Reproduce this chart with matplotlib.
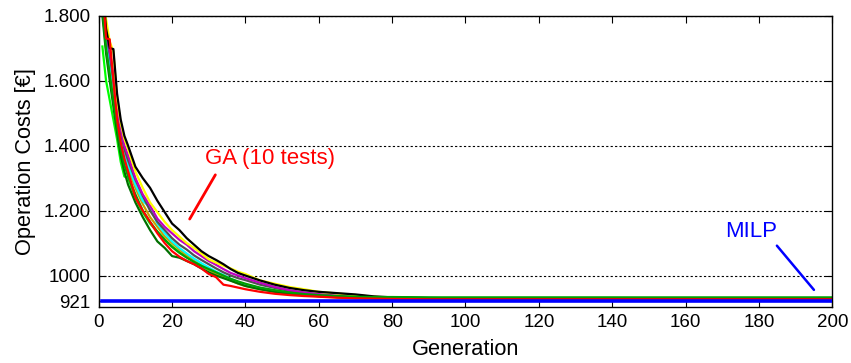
import matplotlib
matplotlib.use('Agg')
import matplotlib.pyplot as plt

plt.rcParams['font.family'] = ['Liberation Sans', 'DejaVu Sans']

gens = [1, 2, 3, 4, 5, 6, 7, 8, 10, 12, 14, 16, 18, 20, 22, 24, 26, 28, 30, 32, 34,
        36, 38, 40, 44, 48, 52, 56, 60, 65, 70, 75, 80, 90, 100, 120, 140, 160, 180, 200]

ga_black = [1900, 1760, 1700, 1697, 1560, 1480, 1430, 1400, 1335, 1300, 1270, 1230, 1195, 1160,
            1140, 1115, 1095, 1075, 1060, 1048, 1035, 1020, 1008, 1000, 985, 972, 962, 955,
            950, 946, 942, 936, 933, 931, 930, 929, 929, 928, 928, 928]
ga_yellow = [1880, 1790, 1720, 1690, 1540, 1470, 1420, 1390, 1320, 1270, 1225, 1195, 1165, 1140,
             1120, 1100, 1085, 1068, 1050, 1040, 1030, 1022, 1012, 1005, 985, 975, 965, 958,
             950, 945, 940, 935, 932, 930, 929, 928, 928, 928, 928, 928]
ga_magenta = [1870, 1760, 1690, 1620, 1520, 1450, 1400, 1370, 1300, 1250, 1215, 1175, 1150, 1130,
              1110, 1095, 1075, 1060, 1045, 1033, 1020, 1008, 1000, 992, 978, 965, 955, 948,
              943, 938, 934, 932, 931, 930, 930, 929, 929, 929, 929, 929]
ga_gray = [1860, 1750, 1680, 1600, 1510, 1440, 1390, 1355, 1295, 1245, 1200, 1165, 1140, 1115,
           1095, 1080, 1062, 1048, 1035, 1022, 1010, 1000, 992, 986, 972, 962, 953, 946,
           941, 937, 934, 932, 931, 930, 929, 929, 929, 929, 929, 929]
ga_cyan = [1850, 1740, 1660, 1580, 1490, 1420, 1375, 1340, 1280, 1230, 1210, 1160, 1130, 1105,
           1085, 1068, 1052, 1038, 1025, 1012, 1002, 990, 980, 972, 962, 954, 948, 942,
           938, 935, 933, 932, 931, 931, 930, 930, 929, 929, 929, 929]
ga_olive = [1840, 1730, 1650, 1570, 1480, 1410, 1365, 1330, 1270, 1220, 1180, 1150, 1120, 1100,
            1080, 1062, 1045, 1032, 1018, 1005, 995, 985, 975, 968, 958, 950, 945, 940,
            936, 933, 931, 930, 929, 929, 929, 929, 929, 929, 929, 929]
ga_lime = [1705, 1600, 1540, 1480, 1420, 1350, 1305, 1300, 1240, 1195, 1160, 1135, 1110, 1090,
           1072, 1058, 1042, 1030, 1018, 1008, 998, 988, 978, 970, 960, 950, 944, 940,
           937, 934, 932, 931, 931, 931, 931, 931, 931, 930, 930, 930]
ga_green = [1820, 1700, 1620, 1540, 1460, 1390, 1340, 1305, 1250, 1200, 1165, 1135, 1110, 1088,
            1070, 1055, 1042, 1030, 1020, 1010, 1000, 990, 982, 975, 963, 955, 948, 943,
            940, 937, 935, 934, 934, 933, 933, 933, 933, 933, 933, 933]
ga_darkgreen = [1800, 1684, 1600, 1520, 1440, 1370, 1320, 1280, 1225, 1180, 1140, 1105, 1085, 1060,
                1055, 1045, 1035, 1022, 1010, 1000, 992, 984, 976, 968, 958, 950, 944, 940,
                937, 934, 932, 931, 930, 930, 930, 930, 930, 930, 930, 930]
ga_red = [1900, 1730, 1727, 1600, 1480, 1410, 1360, 1320, 1240, 1200, 1165, 1130, 1100, 1075,
          1058, 1045, 1035, 1022, 1005, 995, 972, 968, 963, 958, 950, 944, 940, 937,
          935, 932, 930, 929, 928, 927, 927, 927, 927, 927, 927, 927]

milp_gens = [1, 200]
milp_cost = [921, 921]

series = [
    (ga_lime, '#00FF00'),
    (ga_olive, '#C8A000'),
    (ga_cyan, '#00FFFF'),
    (ga_gray, '#505050'),
    (ga_magenta, '#C000C0'),
    (ga_darkgreen, '#007000'),
    (ga_yellow, '#FFFF00'),
    (ga_black, '#000000'),
    (ga_green, '#00A000'),
    (ga_red, '#FF0000'),
]

yticks = [921, 1000, 1200, 1400, 1600, 1800]
ytick_labels = ['921', '1000', '1.200', '1.400', '1.600', '1.800']

fig = plt.figure(figsize=(8.51, 3.63), dpi=100)
ax = fig.add_axes([0.116, 0.154, 0.862, 0.803])

# dotted grid lines
for y in yticks[1:]:
    ax.axhline(y, color='black', linestyle=(0, (2, 2)), linewidth=0.8, zorder=1)

for vals, col in series:
    ax.plot(gens, vals, color=col, linewidth=1.6, zorder=2)

ax.plot(milp_gens, milp_cost, color='#0000FF', linewidth=2.6, zorder=3)

ax.set_xlim(0, 200)
ax.set_ylim(903, 1800)
ax.set_xticks(range(0, 201, 20))
ax.set_yticks(yticks)
ax.set_yticklabels(ytick_labels)
ax.tick_params(direction='in', length=5, top=True, right=True, labelsize=13.5, width=0.8)
ax.tick_params(axis='y', pad=6)
ax.tick_params(axis='x', pad=5)
for s in ax.spines.values():
    s.set_linewidth(1.0)

ax.set_xlabel('Generation', fontsize=15.7, labelpad=6)
ax.set_ylabel('Operation Costs [€]', fontsize=15.7, labelpad=5)

# labels with leader lines
ax.text(46.6, 1359, 'GA (10 tests)', color='#FF0000', fontsize=16, ha='center', va='center')
ax.annotate('', xy=(24.8, 1174), xytext=(31.8, 1310),
            arrowprops=dict(arrowstyle='-', color='#FF0000', lw=2, shrinkA=0, shrinkB=0))
ax.text(178, 1135, 'MILP', color='#0000FF', fontsize=16, ha='center', va='center')
ax.annotate('', xy=(195, 956), xytext=(184.9, 1092),
            arrowprops=dict(arrowstyle='-', color='#0000FF', lw=1.8, shrinkA=0, shrinkB=0))

fig.savefig('out.png', dpi=100)
